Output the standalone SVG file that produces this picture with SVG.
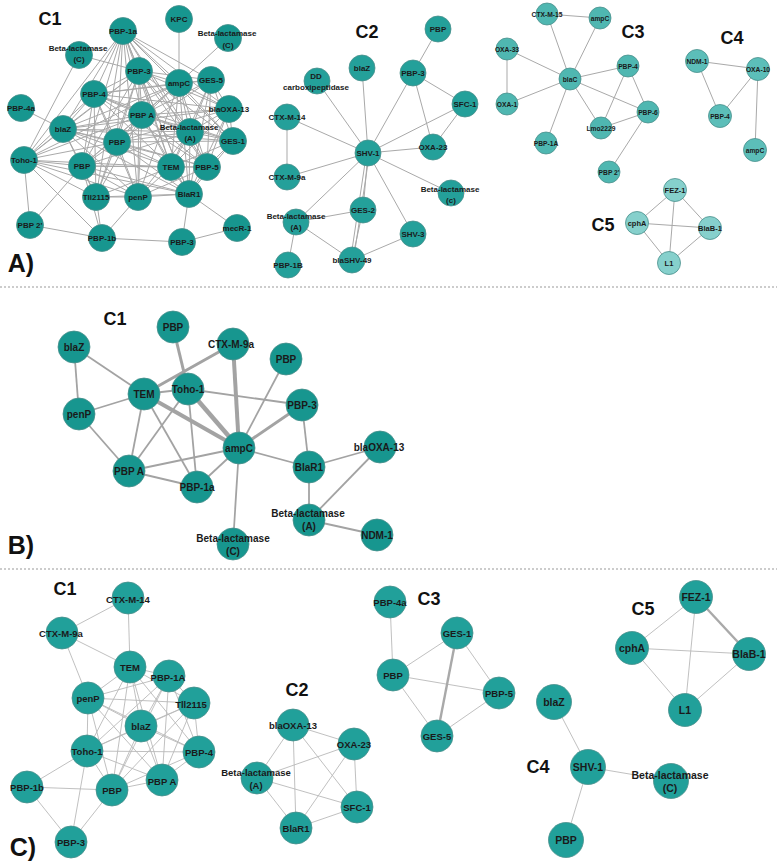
<svg xmlns="http://www.w3.org/2000/svg" width="777" height="866" viewBox="0 0 777 866">
<style>
.e{stroke:#a9a9a9;stroke-width:1;fill:none}
.ec{stroke:#b9b9b9;stroke-width:0.9;fill:none}
.eB{stroke:#a3a3a3;stroke-width:1.8;fill:none}
.sep{stroke:#9a9a9a;stroke-width:1.2;stroke-dasharray:2 2}
circle{stroke:#4a8f8c;stroke-width:0.8}
.n1{fill:#17968f}
.n2{fill:#24a09a}
.n3{fill:#4fb7b1}
.n4{fill:#5cbeb9}
.n5{fill:#86d0cc}
.nc{fill:#21a09a}
text{font-family:'Liberation Sans',Arial,Helvetica,sans-serif;font-weight:bold;text-anchor:middle;dominant-baseline:central;fill:#1a1a1a}
.s8{font-size:8px}
.s67{font-size:6.7px}
.s75{font-size:7.5px}
.s10{font-size:10px}
.s95{font-size:9.5px}
.s105{font-size:10.5px}
.h{font-size:18px;fill:#111}
.p{font-size:25px;fill:#111}
</style>
<rect width="777" height="866" fill="#fff"/>
<line class="sep" x1="0" y1="287" x2="777" y2="287"/>
<line class="sep" x1="0" y1="569" x2="777" y2="569"/>
<g id="labels">
<text class="p" x="21" y="263">A)</text>
<text class="p" x="21" y="545">B)</text>
<text class="p" x="23" y="847">C)</text>
<text class="h" x="50" y="19">C1</text>
<text class="h" x="367" y="32">C2</text>
<text class="h" x="633" y="32">C3</text>
<text class="h" x="732" y="38">C4</text>
<text class="h" x="603" y="225">C5</text>
<text class="h" x="115" y="319">C1</text>
<text class="h" x="65" y="589">C1</text>
<text class="h" x="297" y="690">C2</text>
<text class="h" x="429" y="599">C3</text>
<text class="h" x="538" y="767">C4</text>
<text class="h" x="643" y="609">C5</text>
</g>
<g id="connectors">
<g id="conn-A-C1" class="e">
<line x1="123" y1="31" x2="139" y2="71"/><line x1="123" y1="31" x2="179" y2="83"/><line x1="123" y1="31" x2="211" y2="80"/><line x1="123" y1="31" x2="229" y2="109"/><line x1="123" y1="31" x2="190" y2="132"/><line x1="123" y1="31" x2="233" y2="141"/><line x1="123" y1="31" x2="171" y2="167"/><line x1="123" y1="31" x2="207" y2="167"/><line x1="123" y1="31" x2="142" y2="115"/><line x1="123" y1="31" x2="94" y2="94"/><line x1="123" y1="31" x2="63" y2="129"/><line x1="123" y1="31" x2="24" y2="160"/><line x1="123" y1="31" x2="117" y2="142"/><line x1="123" y1="31" x2="82" y2="166"/><line x1="123" y1="31" x2="96" y2="197"/><line x1="123" y1="31" x2="138" y2="197"/><line x1="123" y1="31" x2="189" y2="194"/>
<line x1="139" y1="71" x2="179" y2="83"/><line x1="139" y1="71" x2="211" y2="80"/><line x1="139" y1="71" x2="229" y2="109"/><line x1="139" y1="71" x2="190" y2="132"/><line x1="139" y1="71" x2="233" y2="141"/><line x1="139" y1="71" x2="171" y2="167"/><line x1="139" y1="71" x2="207" y2="167"/><line x1="139" y1="71" x2="142" y2="115"/><line x1="139" y1="71" x2="94" y2="94"/><line x1="139" y1="71" x2="63" y2="129"/><line x1="139" y1="71" x2="24" y2="160"/><line x1="139" y1="71" x2="117" y2="142"/><line x1="139" y1="71" x2="82" y2="166"/><line x1="139" y1="71" x2="96" y2="197"/><line x1="139" y1="71" x2="138" y2="197"/><line x1="139" y1="71" x2="189" y2="194"/>
<line x1="179" y1="83" x2="211" y2="80"/><line x1="179" y1="83" x2="229" y2="109"/><line x1="179" y1="83" x2="190" y2="132"/><line x1="179" y1="83" x2="233" y2="141"/><line x1="179" y1="83" x2="171" y2="167"/><line x1="179" y1="83" x2="207" y2="167"/><line x1="179" y1="83" x2="142" y2="115"/><line x1="179" y1="83" x2="94" y2="94"/><line x1="179" y1="83" x2="63" y2="129"/><line x1="179" y1="83" x2="24" y2="160"/><line x1="179" y1="83" x2="117" y2="142"/><line x1="179" y1="83" x2="82" y2="166"/><line x1="179" y1="83" x2="138" y2="197"/><line x1="179" y1="83" x2="189" y2="194"/><line x1="179" y1="83" x2="179" y2="19"/><line x1="179" y1="83" x2="228" y2="38"/>
<line x1="211" y1="80" x2="229" y2="109"/><line x1="211" y1="80" x2="190" y2="132"/><line x1="211" y1="80" x2="233" y2="141"/><line x1="211" y1="80" x2="207" y2="167"/><line x1="211" y1="80" x2="171" y2="167"/><line x1="211" y1="80" x2="142" y2="115"/><line x1="211" y1="80" x2="94" y2="94"/><line x1="211" y1="80" x2="117" y2="142"/><line x1="211" y1="80" x2="189" y2="194"/>
<line x1="94" y1="94" x2="142" y2="115"/><line x1="94" y1="94" x2="63" y2="129"/><line x1="94" y1="94" x2="24" y2="160"/><line x1="94" y1="94" x2="117" y2="142"/><line x1="94" y1="94" x2="82" y2="166"/><line x1="94" y1="94" x2="96" y2="197"/><line x1="94" y1="94" x2="138" y2="197"/><line x1="94" y1="94" x2="171" y2="167"/><line x1="94" y1="94" x2="190" y2="132"/><line x1="94" y1="94" x2="229" y2="109"/><line x1="94" y1="94" x2="233" y2="141"/><line x1="94" y1="94" x2="207" y2="167"/>
<line x1="229" y1="109" x2="190" y2="132"/><line x1="229" y1="109" x2="233" y2="141"/><line x1="229" y1="109" x2="207" y2="167"/><line x1="229" y1="109" x2="171" y2="167"/><line x1="229" y1="109" x2="142" y2="115"/><line x1="229" y1="109" x2="117" y2="142"/><line x1="229" y1="109" x2="189" y2="194"/><line x1="229" y1="109" x2="63" y2="129"/>
<line x1="142" y1="115" x2="190" y2="132"/><line x1="142" y1="115" x2="63" y2="129"/><line x1="142" y1="115" x2="24" y2="160"/><line x1="142" y1="115" x2="117" y2="142"/><line x1="142" y1="115" x2="82" y2="166"/><line x1="142" y1="115" x2="171" y2="167"/><line x1="142" y1="115" x2="207" y2="167"/><line x1="142" y1="115" x2="96" y2="197"/><line x1="142" y1="115" x2="138" y2="197"/><line x1="142" y1="115" x2="189" y2="194"/><line x1="142" y1="115" x2="233" y2="141"/>
<line x1="190" y1="132" x2="233" y2="141"/><line x1="190" y1="132" x2="171" y2="167"/><line x1="190" y1="132" x2="207" y2="167"/><line x1="190" y1="132" x2="189" y2="194"/><line x1="190" y1="132" x2="117" y2="142"/><line x1="190" y1="132" x2="63" y2="129"/><line x1="190" y1="132" x2="82" y2="166"/><line x1="190" y1="132" x2="138" y2="197"/>
<line x1="63" y1="129" x2="117" y2="142"/><line x1="63" y1="129" x2="24" y2="160"/><line x1="63" y1="129" x2="82" y2="166"/><line x1="63" y1="129" x2="171" y2="167"/><line x1="63" y1="129" x2="96" y2="197"/><line x1="63" y1="129" x2="138" y2="197"/><line x1="63" y1="129" x2="233" y2="141"/><line x1="63" y1="129" x2="189" y2="194"/><line x1="63" y1="129" x2="207" y2="167"/><line x1="63" y1="129" x2="21" y2="108"/>
<line x1="117" y1="142" x2="82" y2="166"/><line x1="117" y1="142" x2="171" y2="167"/><line x1="117" y1="142" x2="207" y2="167"/><line x1="117" y1="142" x2="233" y2="141"/><line x1="117" y1="142" x2="96" y2="197"/><line x1="117" y1="142" x2="138" y2="197"/><line x1="117" y1="142" x2="189" y2="194"/><line x1="117" y1="142" x2="24" y2="160"/>
<line x1="233" y1="141" x2="207" y2="167"/><line x1="233" y1="141" x2="171" y2="167"/><line x1="233" y1="141" x2="189" y2="194"/>
<line x1="24" y1="160" x2="82" y2="166"/><line x1="24" y1="160" x2="171" y2="167"/><line x1="24" y1="160" x2="96" y2="197"/><line x1="24" y1="160" x2="138" y2="197"/><line x1="24" y1="160" x2="189" y2="194"/><line x1="24" y1="160" x2="30" y2="225"/><line x1="24" y1="160" x2="102" y2="238"/><line x1="24" y1="160" x2="79" y2="55"/>
<line x1="82" y1="166" x2="171" y2="167"/><line x1="82" y1="166" x2="96" y2="197"/><line x1="82" y1="166" x2="138" y2="197"/><line x1="82" y1="166" x2="189" y2="194"/><line x1="82" y1="166" x2="207" y2="167"/><line x1="82" y1="166" x2="30" y2="225"/>
<line x1="171" y1="167" x2="207" y2="167"/><line x1="171" y1="167" x2="138" y2="197"/><line x1="171" y1="167" x2="189" y2="194"/><line x1="171" y1="167" x2="96" y2="197"/>
<line x1="207" y1="167" x2="189" y2="194"/><line x1="207" y1="167" x2="138" y2="197"/>
<line x1="96" y1="197" x2="138" y2="197"/><line x1="96" y1="197" x2="102" y2="238"/><line x1="96" y1="197" x2="189" y2="194"/>
<line x1="138" y1="197" x2="189" y2="194"/><line x1="138" y1="197" x2="102" y2="238"/>
<line x1="102" y1="238" x2="30" y2="225"/><line x1="102" y1="238" x2="182" y2="242"/><line x1="102" y1="238" x2="82" y2="166"/>
<line x1="182" y1="242" x2="189" y2="194"/><line x1="182" y1="242" x2="237" y2="228"/><line x1="237" y1="228" x2="189" y2="194"/>
<line x1="79" y1="55" x2="139" y2="71"/>
</g>
<g id="conn-A-C2" class="e">
<line x1="438" y1="29" x2="413" y2="73"/><line x1="413" y1="73" x2="465" y2="104"/><line x1="413" y1="73" x2="433" y2="147"/><line x1="413" y1="73" x2="368" y2="153"/><line x1="465" y1="104" x2="433" y2="147"/><line x1="465" y1="104" x2="368" y2="153"/><line x1="433" y1="147" x2="368" y2="153"/><line x1="362" y1="68" x2="368" y2="153"/><line x1="317" y1="81" x2="368" y2="153"/><line x1="287" y1="117" x2="368" y2="153"/><line x1="287" y1="117" x2="287" y2="177"/><line x1="287" y1="177" x2="368" y2="153"/><line x1="368" y1="153" x2="451" y2="193"/><line x1="368" y1="153" x2="413" y2="234"/><line x1="368" y1="153" x2="363" y2="210"/><line x1="366.5" y1="153" x2="350.5" y2="260"/><line x1="369.5" y1="153" x2="353.5" y2="260"/><line x1="368" y1="153" x2="296" y2="222"/><line x1="296" y1="222" x2="363" y2="210"/><line x1="296" y1="222" x2="352" y2="260"/><line x1="296" y1="222" x2="288" y2="265"/><line x1="413" y1="234" x2="352" y2="260"/><line x1="363" y1="210" x2="352" y2="260"/>
</g>
<g id="conn-A-C3" class="e">
<line x1="547" y1="14" x2="600" y2="18"/><line x1="547" y1="14" x2="570" y2="79"/><line x1="600" y1="18" x2="570" y2="79"/><line x1="507" y1="49" x2="570" y2="79"/><line x1="507" y1="49" x2="507" y2="104"/><line x1="507" y1="104" x2="570" y2="79"/><line x1="570" y1="79" x2="628" y2="66"/><line x1="570" y1="79" x2="648" y2="112"/><line x1="570" y1="79" x2="601" y2="128"/><line x1="570" y1="79" x2="546" y2="143"/><line x1="628" y1="66" x2="601" y2="128"/><line x1="628" y1="66" x2="648" y2="112"/><line x1="648" y1="112" x2="601" y2="128"/><line x1="648" y1="112" x2="609" y2="172"/>
</g>
<g id="conn-A-C4" class="e">
<line x1="697" y1="61" x2="758" y2="69"/><line x1="697" y1="61" x2="720" y2="116"/><line x1="758" y1="69" x2="720" y2="116"/><line x1="758" y1="69" x2="755" y2="150"/>
</g>
<g id="conn-A-C5" class="e">
<line x1="675" y1="190" x2="637" y2="223"/><line x1="675" y1="190" x2="710" y2="228"/><line x1="675" y1="190" x2="669" y2="263"/><line x1="637" y1="223" x2="710" y2="228"/><line x1="637" y1="223" x2="669" y2="263"/><line x1="669" y1="263" x2="710" y2="228"/>
</g>
<g id="conn-B" class="eB">
<line x1="74" y1="347" x2="144" y2="394"/><line x1="74" y1="347" x2="79" y2="414"/><line x1="79" y1="414" x2="144" y2="394"/><line x1="79" y1="414" x2="129" y2="471"/><line x1="144" y1="394" x2="188" y2="389"/><line x1="144" y1="394" x2="129" y2="471"/><line x1="144" y1="394" x2="197" y2="487"/><line x1="188" y1="389" x2="302" y2="405"/><line x1="188" y1="389" x2="129" y2="471"/><line x1="188" y1="389" x2="197" y2="487"/><line x1="286" y1="359" x2="239" y2="448"/><line x1="302" y1="405" x2="309" y2="467"/><line x1="239" y1="448" x2="309" y2="467"/><line x1="239" y1="448" x2="129" y2="471"/><line x1="239" y1="448" x2="197" y2="487"/><line x1="239" y1="448" x2="233" y2="544"/><line x1="129" y1="471" x2="197" y2="487"/><line x1="309" y1="467" x2="380" y2="447"/><line x1="309" y1="467" x2="309" y2="520"/><line x1="380" y1="447" x2="309" y2="520"/><line x1="309" y1="520" x2="377" y2="535"/>
<line x1="144" y1="394" x2="233" y2="344" stroke-width="3"/><line x1="144" y1="394" x2="239" y2="448" stroke-width="4"/><line x1="173" y1="327" x2="188" y2="389" stroke-width="3"/><line x1="188" y1="389" x2="239" y2="448" stroke-width="4.5"/><line x1="233" y1="344" x2="239" y2="448" stroke-width="4"/><line x1="302" y1="405" x2="239" y2="448" stroke-width="3"/>
</g>
<g id="conn-C-C1" class="ec">
<line x1="130" y1="667" x2="169" y2="676"/><line x1="130" y1="667" x2="88" y2="698"/><line x1="130" y1="667" x2="194" y2="703"/><line x1="130" y1="667" x2="141" y2="726"/><line x1="130" y1="667" x2="199" y2="752"/><line x1="130" y1="667" x2="87" y2="751"/><line x1="130" y1="667" x2="162" y2="780"/><line x1="130" y1="667" x2="112" y2="790"/>
<line x1="169" y1="676" x2="88" y2="698"/><line x1="169" y1="676" x2="194" y2="703"/><line x1="169" y1="676" x2="141" y2="726"/><line x1="169" y1="676" x2="199" y2="752"/><line x1="169" y1="676" x2="87" y2="751"/><line x1="169" y1="676" x2="162" y2="780"/><line x1="169" y1="676" x2="112" y2="790"/>
<line x1="88" y1="698" x2="194" y2="703"/><line x1="88" y1="698" x2="141" y2="726"/><line x1="88" y1="698" x2="199" y2="752"/><line x1="88" y1="698" x2="87" y2="751"/><line x1="88" y1="698" x2="162" y2="780"/><line x1="88" y1="698" x2="112" y2="790"/>
<line x1="194" y1="703" x2="141" y2="726"/><line x1="194" y1="703" x2="199" y2="752"/><line x1="194" y1="703" x2="87" y2="751"/><line x1="194" y1="703" x2="162" y2="780"/><line x1="194" y1="703" x2="112" y2="790"/>
<line x1="141" y1="726" x2="199" y2="752"/><line x1="141" y1="726" x2="87" y2="751"/><line x1="141" y1="726" x2="162" y2="780"/><line x1="141" y1="726" x2="112" y2="790"/>
<line x1="199" y1="752" x2="87" y2="751"/><line x1="199" y1="752" x2="162" y2="780"/><line x1="199" y1="752" x2="112" y2="790"/>
<line x1="87" y1="751" x2="162" y2="780"/><line x1="87" y1="751" x2="112" y2="790"/><line x1="162" y1="780" x2="112" y2="790"/>
<line x1="128" y1="598" x2="62" y2="633"/><line x1="128" y1="598" x2="130" y2="667"/><line x1="62" y1="633" x2="130" y2="667"/><line x1="62" y1="633" x2="88" y2="698"/><line x1="27" y1="787" x2="87" y2="751"/><line x1="27" y1="787" x2="112" y2="790"/><line x1="27" y1="787" x2="71" y2="842"/><line x1="71" y1="842" x2="87" y2="751"/><line x1="71" y1="842" x2="112" y2="790"/>
</g>
<g id="conn-C-C2" class="ec">
<line x1="293" y1="725" x2="354" y2="744"/><line x1="293" y1="725" x2="257" y2="778"/><line x1="293" y1="725" x2="357" y2="807"/><line x1="293" y1="725" x2="296" y2="828"/><line x1="354" y1="744" x2="257" y2="778"/><line x1="354" y1="744" x2="357" y2="807"/><line x1="354" y1="744" x2="296" y2="828"/><line x1="257" y1="778" x2="357" y2="807"/><line x1="257" y1="778" x2="296" y2="828"/><line x1="357" y1="807" x2="296" y2="828"/>
</g>
<g id="conn-C-C3" class="ec">
<line x1="390" y1="602" x2="393" y2="675"/><line x1="393" y1="675" x2="457" y2="633"/><line x1="393" y1="675" x2="499" y2="693"/><line x1="393" y1="675" x2="437" y2="736"/><line x1="457" y1="633" x2="437" y2="736" stroke-width="2.4" stroke="#a9a9a9"/><line x1="457" y1="633" x2="499" y2="693"/><line x1="437" y1="736" x2="499" y2="693"/>
</g>
<g id="conn-C-C4" class="ec">
<line x1="554" y1="702" x2="588" y2="767"/><line x1="588" y1="767" x2="671" y2="781"/><line x1="588" y1="767" x2="566" y2="840"/>
</g>
<g id="conn-C-C5" class="ec">
<line x1="696" y1="597" x2="632" y2="648"/><line x1="696" y1="597" x2="749" y2="654" stroke-width="2.4" stroke="#a9a9a9"/><line x1="696" y1="597" x2="685" y2="710"/><line x1="632" y1="648" x2="749" y2="654"/><line x1="632" y1="648" x2="685" y2="710"/><line x1="685" y1="710" x2="749" y2="654"/>
</g>
</g>
<g id="nodes-A-C1">
<g id="a1-pbp1a"><circle class="n1" cx="123" cy="31" r="13.5"/><text class="s8" x="123" y="31">PBP-1a</text></g>
<g id="a1-kpc"><circle class="n1" cx="179" cy="19" r="13.5"/><text class="s8" x="179" y="19">KPC</text></g>
<g id="a1-betac-r"><circle class="n1" cx="228" cy="38" r="13.5"/><text class="s8" x="227" y="33">Beta-lactamase</text><text class="s8" x="228" y="45">(C)</text></g>
<g id="a1-betac-l"><circle class="n1" cx="79" cy="55" r="13.5"/><text class="s8" x="78" y="48">Beta-lactamase</text><text class="s8" x="79" y="59">(C)</text></g>
<g id="a1-pbp3"><circle class="n1" cx="139" cy="71" r="13.5"/><text class="s8" x="139" y="71">PBP-3</text></g>
<g id="a1-ampc"><circle class="n1" cx="179" cy="83" r="13.5"/><text class="s8" x="179" y="83">ampC</text></g>
<g id="a1-ges5"><circle class="n1" cx="211" cy="80" r="13.5"/><text class="s8" x="211" y="80">GES-5</text></g>
<g id="a1-pbp4"><circle class="n1" cx="94" cy="94" r="13.5"/><text class="s8" x="94" y="94">PBP-4</text></g>
<g id="a1-pbp4a"><circle class="n1" cx="21" cy="108" r="13.5"/><text class="s8" x="21" y="108">PBP-4a</text></g>
<g id="a1-blaoxa13"><circle class="n1" cx="229" cy="109" r="13.5"/><text class="s8" x="229" y="109">blaOXA-13</text></g>
<g id="a1-pbpa"><circle class="n1" cx="142" cy="115" r="13.5"/><text class="s8" x="142" y="115">PBP A</text></g>
<g id="a1-betaa"><circle class="n1" cx="190" cy="132" r="13.5"/><text class="s8" x="189" y="127">Beta-lactamase</text><text class="s8" x="190" y="138">(A)</text></g>
<g id="a1-blaz"><circle class="n1" cx="63" cy="129" r="13.5"/><text class="s8" x="63" y="129">blaZ</text></g>
<g id="a1-pbp-u"><circle class="n1" cx="117" cy="142" r="13.5"/><text class="s8" x="117" y="142">PBP</text></g>
<g id="a1-ges1"><circle class="n1" cx="233" cy="141" r="13.5"/><text class="s8" x="233" y="141">GES-1</text></g>
<g id="a1-toho1"><circle class="n1" cx="24" cy="160" r="13.5"/><text class="s8" x="24" y="160">Toho-1</text></g>
<g id="a1-pbp-l"><circle class="n1" cx="82" cy="166" r="13.5"/><text class="s8" x="82" y="166">PBP</text></g>
<g id="a1-tem"><circle class="n1" cx="171" cy="167" r="13.5"/><text class="s8" x="171" y="167">TEM</text></g>
<g id="a1-pbp5"><circle class="n1" cx="207" cy="167" r="13.5"/><text class="s8" x="207" y="167">PBP-5</text></g>
<g id="a1-tll2115"><circle class="n1" cx="96" cy="197" r="13.5"/><text class="s8" x="96" y="197">Tll2115</text></g>
<g id="a1-penp"><circle class="n1" cx="138" cy="197" r="13.5"/><text class="s8" x="138" y="197">penP</text></g>
<g id="a1-blar1"><circle class="n1" cx="189" cy="194" r="13.5"/><text class="s8" x="189" y="194">BlaR1</text></g>
<g id="a1-pbp2"><circle class="n1" cx="30" cy="225" r="13.5"/><text class="s8" x="30" y="225">PBP 2'</text></g>
<g id="a1-pbp1b"><circle class="n1" cx="102" cy="238" r="13.5"/><text class="s8" x="102" y="238">PBP-1b</text></g>
<g id="a1-pbp3b"><circle class="n1" cx="182" cy="242" r="13.5"/><text class="s8" x="182" y="242">PBP-3</text></g>
<g id="a1-mecr1"><circle class="n1" cx="237" cy="228" r="13.5"/><text class="s8" x="237" y="228">mecR-1</text></g>
</g>
<g id="nodes-A-C2">
<g id="a2-pbp"><circle class="n2" cx="438" cy="29" r="13"/><text class="s8" x="438" y="29">PBP</text></g>
<g id="a2-blaz"><circle class="n2" cx="362" cy="68" r="13"/><text class="s8" x="362" y="68">blaZ</text></g>
<g id="a2-pbp3"><circle class="n2" cx="413" cy="73" r="13"/><text class="s8" x="413" y="73">PBP-3</text></g>
<g id="a2-dd"><circle class="n2" cx="317" cy="81" r="13"/><text class="s8" x="316" y="76">DD</text><text class="s8" x="316" y="87">carboxipeptidase</text></g>
<g id="a2-sfc1"><circle class="n2" cx="465" cy="104" r="13"/><text class="s8" x="465" y="104">SFC-1</text></g>
<g id="a2-ctxm14"><circle class="n2" cx="287" cy="117" r="13"/><text class="s8" x="287" y="117">CTX-M-14</text></g>
<g id="a2-oxa23"><circle class="n2" cx="433" cy="147" r="13"/><text class="s8" x="433" y="147">OXA-23</text></g>
<g id="a2-shv1"><circle class="n2" cx="368" cy="153" r="13"/><text class="s8" x="368" y="153">SHV-1</text></g>
<g id="a2-ctxm9a"><circle class="n2" cx="287" cy="177" r="13"/><text class="s8" x="287" y="177">CTX-M-9a</text></g>
<g id="a2-betac"><circle class="n2" cx="451" cy="193" r="13"/><text class="s8" x="450" y="189">Beta-lactamase</text><text class="s8" x="451" y="200">(c)</text></g>
<g id="a2-betaa"><circle class="n2" cx="296" cy="222" r="13"/><text class="s8" x="296" y="216">Beta-lactamase</text><text class="s8" x="296" y="227">(A)</text></g>
<g id="a2-ges2"><circle class="n2" cx="363" cy="210" r="13"/><text class="s8" x="363" y="210">GES-2</text></g>
<g id="a2-shv3"><circle class="n2" cx="413" cy="234" r="13"/><text class="s8" x="413" y="234">SHV-3</text></g>
<g id="a2-blashv49"><circle class="n2" cx="352" cy="260" r="13"/><text class="s8" x="352" y="260">blaSHV-49</text></g>
<g id="a2-pbp1b"><circle class="n2" cx="288" cy="265" r="13"/><text class="s8" x="288" y="265">PBP-1B</text></g>
</g>
<g id="nodes-A-C3">
<g id="a3-ctxm15"><circle class="n3" cx="547" cy="14" r="11"/><text class="s67" x="547" y="14">CTX-M-15</text></g>
<g id="a3-ampc"><circle class="n3" cx="600" cy="18" r="11"/><text class="s67" x="600" y="18">ampC</text></g>
<g id="a3-oxa33"><circle class="n3" cx="507" cy="49" r="11"/><text class="s67" x="507" y="49">OXA-33</text></g>
<g id="a3-pbp4"><circle class="n3" cx="628" cy="66" r="11"/><text class="s67" x="628" y="66">PBP-4</text></g>
<g id="a3-blac"><circle class="n3" cx="570" cy="79" r="11"/><text class="s67" x="570" y="79">blaC</text></g>
<g id="a3-oxa1"><circle class="n3" cx="507" cy="104" r="11"/><text class="s67" x="507" y="104">OXA-1</text></g>
<g id="a3-pbp6"><circle class="n3" cx="648" cy="112" r="11"/><text class="s67" x="648" y="112">PBP-6</text></g>
<g id="a3-lmo2229"><circle class="n3" cx="601" cy="128" r="11"/><text class="s67" x="601" y="128">Lmo2229</text></g>
<g id="a3-pbp1a"><circle class="n3" cx="546" cy="143" r="11"/><text class="s67" x="546" y="143">PBP-1A</text></g>
<g id="a3-pbp2"><circle class="n3" cx="609" cy="172" r="11"/><text class="s67" x="609" y="172">PBP 2'</text></g>
</g>
<g id="nodes-A-C4">
<g id="a4-ndm1"><circle class="n4" cx="697" cy="61" r="11.5"/><text class="s67" x="697" y="61">NDM-1</text></g>
<g id="a4-oxa10"><circle class="n4" cx="758" cy="69" r="11.5"/><text class="s67" x="758" y="69">OXA-10</text></g>
<g id="a4-pbp4"><circle class="n4" cx="720" cy="116" r="11.5"/><text class="s67" x="720" y="116">PBP-4</text></g>
<g id="a4-ampc"><circle class="n4" cx="755" cy="150" r="11.5"/><text class="s67" x="755" y="150">ampC</text></g>
</g>
<g id="nodes-A-C5">
<g id="a5-fez1"><circle class="n5" cx="675" cy="190" r="11.5"/><text class="s75" x="675" y="190">FEZ-1</text></g>
<g id="a5-cpha"><circle class="n5" cx="637" cy="223" r="11.5"/><text class="s75" x="637" y="223">cphA</text></g>
<g id="a5-blab1"><circle class="n5" cx="710" cy="228" r="11.5"/><text class="s75" x="710" y="228">BlaB-1</text></g>
<g id="a5-l1"><circle class="n5" cx="669" cy="263" r="11.5"/><text class="s75" x="669" y="263">L1</text></g>
</g>
<g id="nodes-B">
<g id="b-pbp-top"><circle class="n1" cx="173" cy="327" r="16"/><text class="s10" x="173" y="327">PBP</text></g>
<g id="b-blaz"><circle class="n1" cx="74" cy="347" r="16"/><text class="s10" x="74" y="347">blaZ</text></g>
<g id="b-ctxm9a"><circle class="n1" cx="233" cy="344" r="16"/><text class="s10" x="231" y="344">CTX-M-9a</text></g>
<g id="b-pbp-right"><circle class="n1" cx="286" cy="359" r="16"/><text class="s10" x="286" y="359">PBP</text></g>
<g id="b-tem"><circle class="n1" cx="144" cy="394" r="16"/><text class="s10" x="144" y="394">TEM</text></g>
<g id="b-toho1"><circle class="n1" cx="188" cy="389" r="16"/><text class="s10" x="188" y="389">Toho-1</text></g>
<g id="b-penp"><circle class="n1" cx="79" cy="414" r="16"/><text class="s10" x="79" y="414">penP</text></g>
<g id="b-pbp3"><circle class="n1" cx="302" cy="405" r="16"/><text class="s10" x="302" y="405">PBP-3</text></g>
<g id="b-ampc"><circle class="n1" cx="239" cy="448" r="16"/><text class="s10" x="239" y="448">ampC</text></g>
<g id="b-blaoxa13"><circle class="n1" cx="380" cy="447" r="16"/><text class="s10" x="379" y="447">blaOXA-13</text></g>
<g id="b-blar1"><circle class="n1" cx="309" cy="467" r="16"/><text class="s10" x="309" y="467">BlaR1</text></g>
<g id="b-pbpa"><circle class="n1" cx="129" cy="471" r="16"/><text class="s10" x="129" y="471">PBP A</text></g>
<g id="b-pbp1a"><circle class="n1" cx="197" cy="487" r="16"/><text class="s10" x="197" y="487">PBP-1a</text></g>
<g id="b-betaa"><circle class="n1" cx="309" cy="520" r="16"/><text class="s10" x="308" y="513">Beta-lactamase</text><text class="s10" x="309" y="526">(A)</text></g>
<g id="b-ndm1"><circle class="n1" cx="377" cy="535" r="16"/><text class="s10" x="377" y="535">NDM-1</text></g>
<g id="b-betac"><circle class="n1" cx="233" cy="544" r="16"/><text class="s10" x="233" y="538">Beta-lactamase</text><text class="s10" x="233" y="551">(C)</text></g>
</g>
<g id="nodes-C-C1">
<g id="c1-ctxm14"><circle class="nc" cx="128" cy="598" r="16"/><text class="s95" x="128" y="599">CTX-M-14</text></g>
<g id="c1-ctxm9a"><circle class="nc" cx="62" cy="633" r="16"/><text class="s95" x="61" y="633">CTX-M-9a</text></g>
<g id="c1-tem"><circle class="nc" cx="130" cy="667" r="16"/><text class="s95" x="130" y="667">TEM</text></g>
<g id="c1-pbp1a"><circle class="nc" cx="169" cy="676" r="16"/><text class="s95" x="168" y="677">PBP-1A</text></g>
<g id="c1-penp"><circle class="nc" cx="88" cy="698" r="16"/><text class="s95" x="88" y="698">penP</text></g>
<g id="c1-tll2115"><circle class="nc" cx="194" cy="703" r="16"/><text class="s95" x="191" y="704">Tll2115</text></g>
<g id="c1-blaz"><circle class="nc" cx="141" cy="726" r="16"/><text class="s95" x="141" y="726">blaZ</text></g>
<g id="c1-pbp4"><circle class="nc" cx="199" cy="752" r="16"/><text class="s95" x="199" y="752">PBP-4</text></g>
<g id="c1-toho1"><circle class="nc" cx="87" cy="751" r="16"/><text class="s95" x="87" y="751">Toho-1</text></g>
<g id="c1-pbp1b"><circle class="nc" cx="27" cy="787" r="16"/><text class="s95" x="27" y="787">PBP-1b</text></g>
<g id="c1-pbpa"><circle class="nc" cx="162" cy="780" r="16"/><text class="s95" x="162" y="781">PBP A</text></g>
<g id="c1-pbp"><circle class="nc" cx="112" cy="790" r="16"/><text class="s95" x="112" y="790">PBP</text></g>
<g id="c1-pbp3"><circle class="nc" cx="71" cy="842" r="16"/><text class="s95" x="71" y="842">PBP-3</text></g>
</g>
<g id="nodes-C-C2">
<g id="c2-blaoxa13"><circle class="nc" cx="293" cy="725" r="16"/><text class="s95" x="293" y="725">blaOXA-13</text></g>
<g id="c2-oxa23"><circle class="nc" cx="354" cy="744" r="16"/><text class="s95" x="354" y="744">OXA-23</text></g>
<g id="c2-betaa"><circle class="nc" cx="257" cy="778" r="16"/><text class="s95" x="256" y="772">Beta-lactamase</text><text class="s95" x="256" y="785">(A)</text></g>
<g id="c2-sfc1"><circle class="nc" cx="357" cy="807" r="16"/><text class="s95" x="357" y="807">SFC-1</text></g>
<g id="c2-blar1"><circle class="nc" cx="296" cy="828" r="16"/><text class="s95" x="296" y="828">BlaR1</text></g>
</g>
<g id="nodes-C-C3">
<g id="c3-pbp4a"><circle class="nc" cx="390" cy="602" r="16"/><text class="s95" x="390" y="602">PBP-4a</text></g>
<g id="c3-ges1"><circle class="nc" cx="457" cy="633" r="16"/><text class="s95" x="457" y="633">GES-1</text></g>
<g id="c3-pbp"><circle class="nc" cx="393" cy="675" r="16"/><text class="s95" x="393" y="675">PBP</text></g>
<g id="c3-pbp5"><circle class="nc" cx="499" cy="693" r="16"/><text class="s95" x="499" y="693">PBP-5</text></g>
<g id="c3-ges5"><circle class="nc" cx="437" cy="736" r="16"/><text class="s95" x="437" y="736">GES-5</text></g>
</g>
<g id="nodes-C-C4">
<g id="c4-blaz"><circle class="nc" cx="554" cy="702" r="17.5"/><text class="s105" x="554" y="702">blaZ</text></g>
<g id="c4-shv1"><circle class="nc" cx="588" cy="767" r="17.5"/><text class="s105" x="588" y="767">SHV-1</text></g>
<g id="c4-betac"><circle class="nc" cx="671" cy="781" r="17.5"/><text class="s105" x="670" y="775">Beta-lactamase</text><text class="s105" x="670" y="788">(C)</text></g>
<g id="c4-pbp"><circle class="nc" cx="566" cy="840" r="17.5"/><text class="s105" x="566" y="840">PBP</text></g>
</g>
<g id="nodes-C-C5">
<g id="c5-fez1"><circle class="nc" cx="696" cy="597" r="16.5"/><text class="s105" x="696" y="597">FEZ-1</text></g>
<g id="c5-cpha"><circle class="nc" cx="632" cy="648" r="16.5"/><text class="s105" x="632" y="648">cphA</text></g>
<g id="c5-blab1"><circle class="nc" cx="749" cy="654" r="16.5"/><text class="s105" x="749" y="654">BlaB-1</text></g>
<g id="c5-l1"><circle class="nc" cx="685" cy="710" r="16.5"/><text class="s105" x="685" y="710">L1</text></g>
</g>
</svg>
